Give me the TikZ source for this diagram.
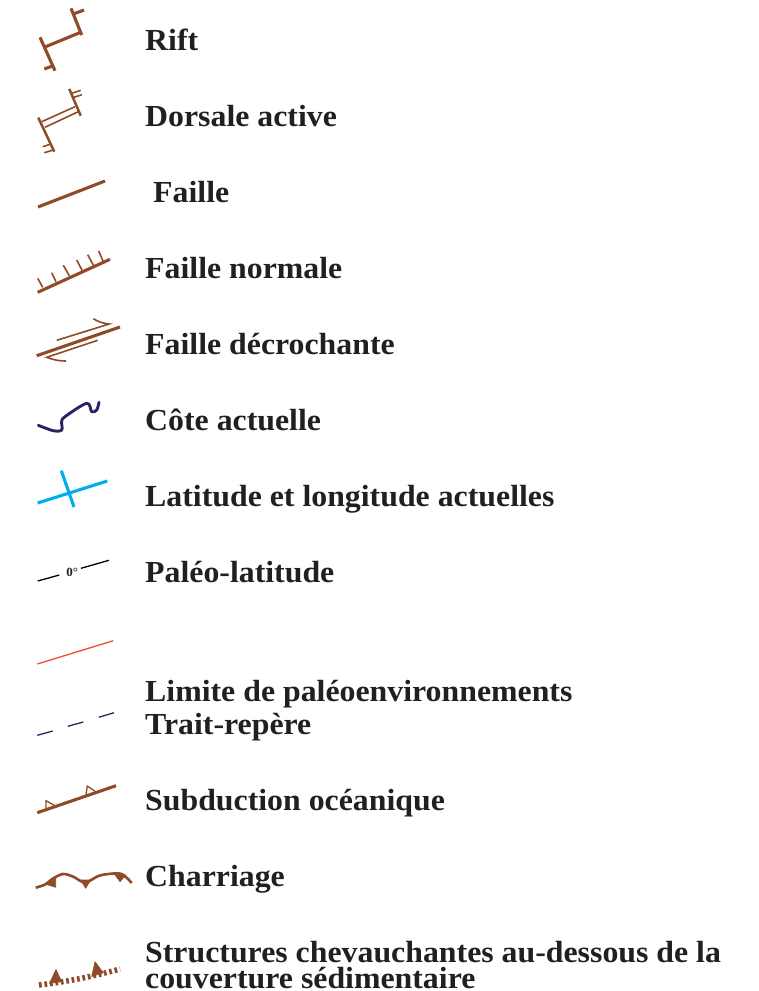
\documentclass[tikz,border=0pt]{standalone}
\usepackage{fontspec}
\setmainfont[FakeStretch=1.04]{Liberation Serif}
\definecolor{brn}{HTML}{8F4A28}
\definecolor{navy}{HTML}{2B2464}
\definecolor{cyanl}{HTML}{00AEEF}
\definecolor{redl}{HTML}{EF4B36}
\definecolor{txt}{HTML}{231F20}
\tikzset{
 lbl/.style={anchor=base west,inner sep=0pt,text=txt,font=\fontsize{30.6}{32}\selectfont\bfseries},
 heavy/.style={draw=brn,line width=3.1pt},
 thin brn/.style={draw=brn,line width=1.6pt},
 tri/.style={fill=brn,draw=brn,line width=.6pt,line join=round},
 hollow/.style={draw=brn,line width=1.3pt,fill=white}
}
\begin{document}
\begin{tikzpicture}[x=1pt,y=-1pt]
\useasboundingbox (0,0) rectangle (758,991);
% labels
\node[lbl] (l1) at (145,50) {Rift};
\node[lbl] (l2) at (145,126) {Dorsale active};
\node[lbl] (l3) at (153,202) {Faille};
\node[lbl] (l4) at (145,278) {Faille normale};
\node[lbl] (l5) at (145,354) {Faille décrochante};
\node[lbl] (l6) at (145,430) {Côte actuelle};
\node[lbl] (l7) at (145,506) {Latitude et longitude actuelles};
\node[lbl] (l8) at (145,582) {Paléo-latitude};
\node[lbl] (l9) at (145,701) {Limite de paléoenvironnements};
\node[lbl] (l10) at (145,734) {Trait-repère};
\node[lbl] (l11) at (145,810) {Subduction océanique};
\node[lbl] (l12) at (145,886) {Charriage};
\node[lbl] (l13) at (145,962) {Structures chevauchantes au-dessous de la};
\node[lbl] (l14) at (145,988.3) {couverture sédimentaire};
% rift
\draw[heavy] (45.7,46.7)--(80.7,32.3) (40,37.3)--(55,70.7) (71,8.3)--(81.7,35) (44.3,69)--(53.3,65.7) (73.3,14)--(84,10);
% dorsale
\draw[draw=brn,line width=2.5pt] (38.3,117.7)--(54.3,151.7) (69.3,89)--(80.7,115.7);
\draw[thin brn] (41.7,121.7)--(75,106.7) (45,127.3)--(78.3,111.7) (42.7,146.7)--(51,144) (44.3,152.7)--(53.3,150) (71.7,93.3)--(80.7,90.3) (74,97.3)--(82,94.7);
% faille
\draw[heavy] (38,207)--(105,181);
% normale
\draw[heavy] (37.7,292.3)--(110,259.3);
\draw[thin brn] (37.7,278.3)--(42.7,287.3) (51.7,272.7)--(56,281.7) (63.3,265.3)--(69.3,275.7) (76.7,260)--(82.3,270.7) (87.7,254.7)--(93.3,265) (98.7,251)--(103.3,261.7);
% decrochante
\draw[heavy] (36.7,355.7)--(120,327);
\draw[thin brn] (56.7,340.3)--(109.3,324) to[bend left=12] (93.3,318.7);
\draw[thin brn] (97.7,340.3)--(46.7,357.3) to[bend right=10] (66,361);
% cote
\draw[draw=navy,line width=2.9pt,line cap=round,line join=round] plot[smooth,tension=.55] coordinates {(38.3,425.3)(53.3,430.7)(61.7,430)(61.7,421.7)(65,416.7)(86.7,403.3)(91.7,411.7)(96.7,410)(99,402.3)};
% latitude
\draw[draw=cyanl,line width=3.1pt] (37.7,503)--(107.3,481) (61.3,470.7)--(74,507);
% paleo
\draw[draw=black,line width=1.3pt] (37.7,581)--(59.3,575) (81,568.3)--(109,560.3);
\node[inner sep=0pt,text=txt,font=\fontsize{12.5}{13}\selectfont\bfseries] (zero) at (72.3,572) {0°};
% red
\draw[draw=redl,line width=1.3pt] (37.3,664)--(113.3,640.7);
% dashes
\draw[draw=navy,line width=1.3pt] (37.3,735.3)--(52.7,731) (67.7,726.3)--(83.3,722) (98.7,717.3)--(114,712.7);
% subduction
\draw[hollow] (46,808.3)--(46,800.7)--(55,805.7);
\draw[hollow] (86,795)--(87.3,786)--(95.7,791.7);
\draw[heavy] (37.3,812.7)--(116,785.7);
% charriage
\fill[tri] (45,884)--(55.7,877.5)--(55.7,887.3)--cycle;
\fill[tri] (80.7,880)--(90.7,880)--(85.7,888.3)--cycle;
\fill[tri] (114,873.5)--(126,875)--(120,881.7)--cycle;
\draw[draw=brn,line width=2.6pt,line join=round] plot[smooth,tension=.55] coordinates {(35.7,887.7)(45,884.5)(53.3,878.3)(63.3,874)(73.3,876.7)(85,882.5)(98.3,876)(108.3,874)(121.7,874)(131.7,883)};
% chevauchantes
\draw[draw=brn,line width=5.5pt,dash pattern=on 2.7pt off 2.8pt] (39,985) .. controls (66,982) and (95,976) .. (120,969);
\fill[tri] (56,969.5)--(49.5,983.3)--(61.7,981.7)--cycle;
\fill[tri] (95,961.7)--(91.7,976.5)--(103.3,972.8)--cycle;
\end{tikzpicture}
\end{document}
